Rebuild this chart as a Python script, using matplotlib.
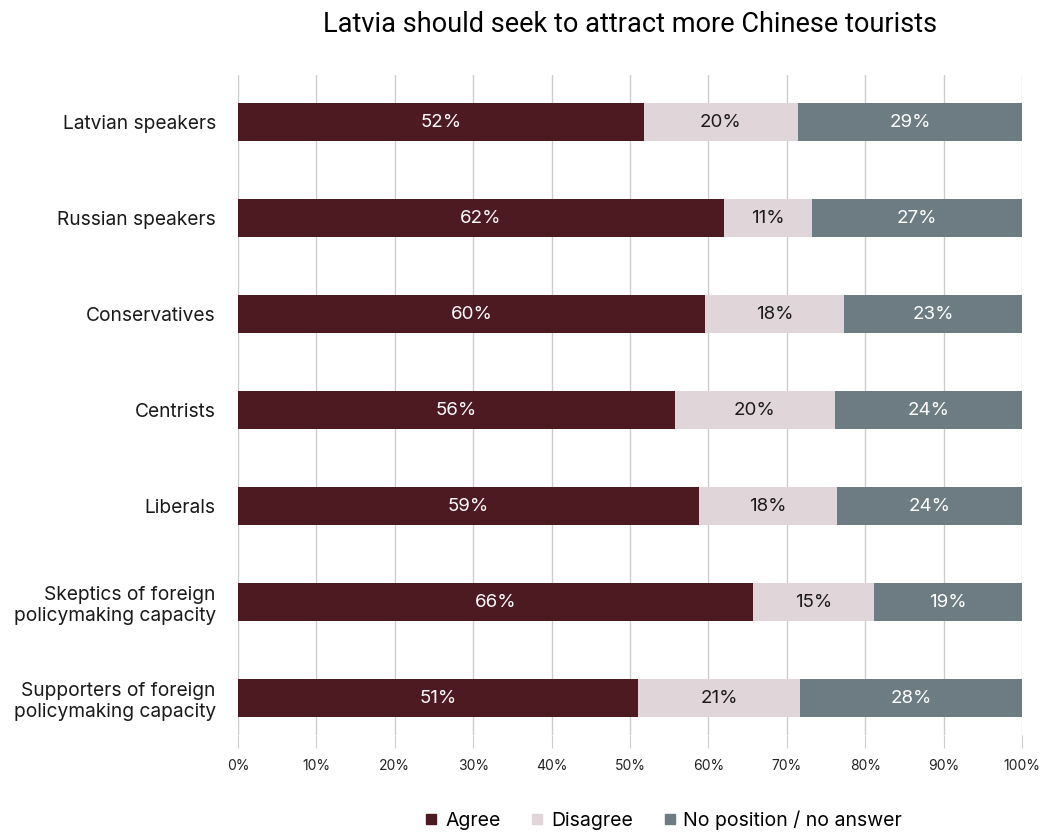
import matplotlib.pyplot as plt
from matplotlib.lines import Line2D
import numpy as np

plt.rcParams['font.family'] = ['Inter', 'DejaVu Sans']

groups = [
    "Latvian speakers",
    "Russian speakers",
    "Conservatives",
    "Centrists",
    "Liberals",
    "Skeptics of foreign\npolicymaking capacity",
    "Supporters of foreign\npolicymaking capacity",
]
agree = [51.8, 62.0, 59.6, 55.7, 58.8, 65.7, 51.0]
disagree = [19.6, 11.2, 17.7, 20.4, 17.6, 15.4, 20.7]
no_answer = [28.6, 26.8, 22.7, 23.9, 23.6, 18.9, 28.3]

series = ["Agree", "Disagree", "No position / no answer"]
colors = ["#4d1a22", "#e0d6da", "#6c7c82"]
text_colors = ["white", "#1a1a1a", "white"]

fig = plt.figure(figsize=(10.43, 8.32), dpi=100)
ax = fig.add_axes([238 / 1043, 1 - 735 / 832, 784 / 1043, 660 / 832])

y = np.arange(len(groups))
left = np.zeros(len(groups))
for vals, col, tcol in zip([agree, disagree, no_answer], colors, text_colors):
    vals = np.array(vals)
    ax.barh(y, vals, left=left, height=0.4, color=col, zorder=2)
    for yi, l, v in zip(y, left, vals):
        ax.text(l + v / 2, yi, f"{v:.0f}%", ha='center', va='center',
                color=tcol, fontsize=13.5, zorder=3)
    left += vals

ax.set_xlim(0, 100)
ax.set_ylim(6.385, -0.49)
ax.set_xticks(np.arange(0, 101, 10))
ax.set_xticklabels([f"{t}%" for t in range(0, 101, 10)], fontsize=10, color="#222222")
ax.set_yticks(y)
ax.set_yticklabels(groups, fontsize=13.8, color="#1a1a1a")
ax.tick_params(axis='y', length=0, pad=16)
ax.tick_params(axis='x', length=9, color="#cccccc", pad=8)
ax.grid(axis='x', color="#cccccc", linewidth=1, zorder=0)
for s in ax.spines.values():
    s.set_visible(False)

fig.text(630 / 1043, 1 - 25 / 832, "Latvia should seek to attract more Chinese tourists",
         ha='center', va='center', fontsize=19.5, family=['Roboto', 'DejaVu Sans'])

handles = [Line2D([], [], marker='s', linestyle='none', markersize=7,
                  markerfacecolor=c, markeredgecolor=c) for c in colors]
fig.legend(handles, series, loc='center', bbox_to_anchor=(661 / 1043, 1 - 820 / 832),
           ncol=3, frameon=False, fontsize=14, handletextpad=0.1, columnspacing=1.3,
           handlelength=1.2)

fig.savefig("out.png", dpi=100)
